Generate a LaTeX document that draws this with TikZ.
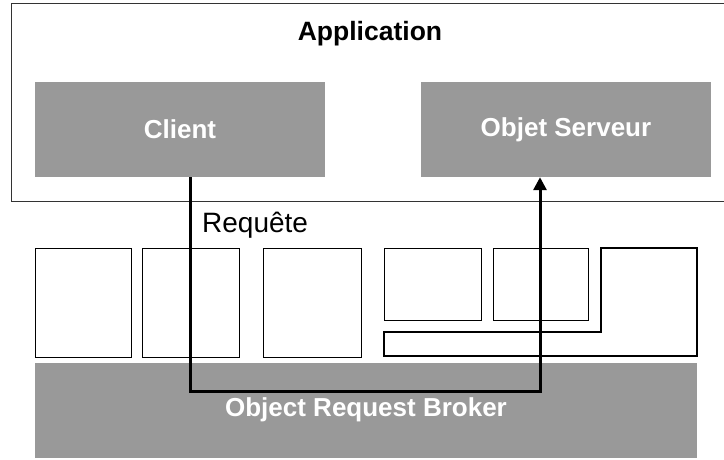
\documentclass[tikz,border=0pt]{standalone}
\usepackage{fontspec}
\setmainfont{Liberation Sans}
\usetikzlibrary{arrows.meta}

\definecolor{halftone}{gray}{0.60}

\tikzset{
  px/.style={x=1pt,y=-1pt},
  graybox/.style={fill=halftone, draw=none, text=white,
    font=\fontsize{26}{30}\selectfont\bfseries, inner sep=0pt},
  slot/.style={draw=black, line width=1pt, fill=white},
  conn/.style={draw=black, line width=3pt, line join=miter,
    -{Triangle[length=13pt,width=13pt]}},
}

\begin{document}
\begin{tikzpicture}[px]
\useasboundingbox (0,0) rectangle (724,460);

% application frame (runs off the right edge)
\draw[line width=1pt, draw=black!80] (730,4) -- (11,4) -- (11,201) -- (730,201);
\node[font=\fontsize{26.5}{30}\selectfont\bfseries] (app) at (370,34) {Application};

% components inside the application
\node[graybox, minimum width=290pt, minimum height=95pt] (client) at (180,129.5) {Client};
\node[graybox, minimum width=290pt, minimum height=95pt] (serveur) at (566,129.5) {Objet Serveur};

% object request broker bar
\node[graybox, minimum width=662pt, minimum height=95pt] (orb) at (366,410) {Object Request Broker};

% row of interface boxes
\draw[slot] (35,248) rectangle (131,357);
\draw[slot] (142,248) rectangle (239,357);
\draw[slot] (263,248) rectangle (361,357);
\draw[slot] (384,248) rectangle (481,320);
\draw[slot] (493,248) rectangle (588,320);
\draw[line width=2pt, fill=white, line join=miter]
  (384,332) -- (601,332) -- (601,248) -- (697,248) -- (697,356) -- (384,356) -- cycle;

% request path from client through the broker to the server object
\draw[conn] ([xshift=10pt]client.south) -- ++(0,214) -| ([xshift=-26pt]serveur.south);
\node[anchor=base west, font=\fontsize{28}{32}\selectfont, inner sep=0pt] (req) at (202,232) {Requête};
\end{tikzpicture}
\end{document}
